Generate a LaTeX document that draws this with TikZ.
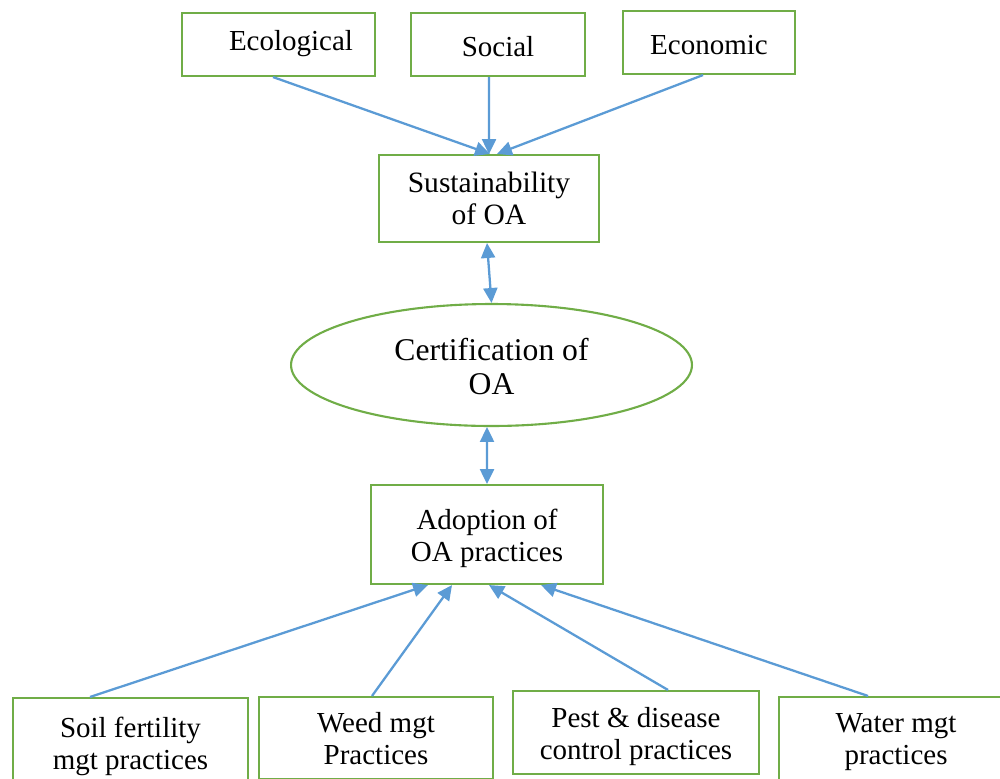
\documentclass[tikz,border=0pt]{standalone}
\usepackage{fontspec}
\setmainfont{Liberation Serif}
\usetikzlibrary{arrows.meta,shapes.geometric}
\definecolor{boxgreen}{HTML}{70AD47}
\definecolor{arrowblue}{HTML}{5B9BD5}
\newcommand\twoline[3]{\raisebox{-#1}[\height][\depth]{\begin{tabular}{@{}c@{}}#2\\#3\end{tabular}}}
\newcommand\oneline[2]{\raisebox{-#1}[\height][\depth]{#2}}
\begin{document}
\begin{tikzpicture}[x=0.02cm,y=-0.02cm,
  box/.style={draw=boxgreen,line width=1.2pt,rectangle,inner sep=0pt,align=center,
    font=\fontsize{16.5}{18.2}\selectfont},
  oval/.style={draw=boxgreen,line width=1.2pt,ellipse,inner sep=0pt,align=center,
    minimum width=8.02cm,minimum height=2.44cm,font=\fontsize{18}{19.3}\selectfont},
  link/.style={draw=arrowblue,line width=1.3pt,-{Triangle[length=8.5pt,width=8pt]}},
  dlink/.style={draw=arrowblue,line width=1.3pt,{Triangle[length=8.5pt,width=8pt]}-{Triangle[length=8.5pt,width=8pt]}}]
\path[use as bounding box,clip] (0,0) rectangle (1000,778);
% top boxes
\node[box,minimum width=3.86cm,minimum height=1.26cm] (eco) at (278.5,44.5) {\oneline{-0.5pt}{\hspace*{0.5cm}Ecological}};
\node[box,minimum width=3.48cm,minimum height=1.26cm] (soc) at (498,44.5) {\oneline{1pt}{Social}};
\node[box,minimum width=3.44cm,minimum height=1.26cm] (econ) at (709,42.5) {\oneline{1.2pt}{Economic}};
\node[box,font=\fontsize{16.8}{18.2}\selectfont,minimum width=4.40cm,minimum height=1.74cm] (sus) at (489,198.5) {\twoline{1.9pt}{Sustainability}{of OA}};
\node[oval] (cert) at (491.5,365) {\twoline{3.2pt}{Certification of}{OA}};
\node[box,minimum width=4.64cm,minimum height=1.98cm] (adopt) at (487,534.5) {\twoline{2.55pt}{Adoption of}{OA practices}};
% bottom boxes
\node[box,minimum width=4.70cm,minimum height=1.80cm] (soil) at (130.5,743) {\twoline{2.3pt}{Soil fertility}{mgt practices}};
\node[box,minimum width=4.68cm,minimum height=1.64cm] (weed) at (376,738) {\twoline{2.1pt}{Weed mgt}{Practices}};
\node[box,minimum width=4.92cm,minimum height=1.66cm] (pest) at (636,732.5) {\twoline{2.8pt}{Pest \& disease}{control practices}};
\node[box,minimum width=4.68cm,minimum height=1.66cm] (water) at (896,738.5) {\twoline{2.2pt}{Water mgt}{practices}};
% connectors
\draw[link] ([xshift=-0.11cm]eco.south) -- ([xshift=0.02cm]sus.north);
\draw[link] ([xshift=-0.18cm]soc.south) -- (sus.north);
\draw[link] ([xshift=-0.12cm]econ.south) -- ([xshift=0.16cm]sus.north);
\draw[dlink] ([xshift=-0.04cm]sus.south) -- (cert.north);
\draw[dlink] ([xshift=-0.09cm]cert.south) -- ([xshift=0cm]adopt.north);
\draw[link] ([xshift=-0.81cm]soil.north) -- ([xshift=-1.18cm]adopt.south);
\draw[link] ([xshift=-0.08cm]weed.north) -- ([xshift=-0.70cm]adopt.south);
\draw[link] ([xshift=0.64cm]pest.north) -- ([xshift=0.04cm]adopt.south);
\draw[link] ([xshift=-0.56cm]water.north) -- ([xshift=1.08cm]adopt.south);
\end{tikzpicture}
\end{document}
